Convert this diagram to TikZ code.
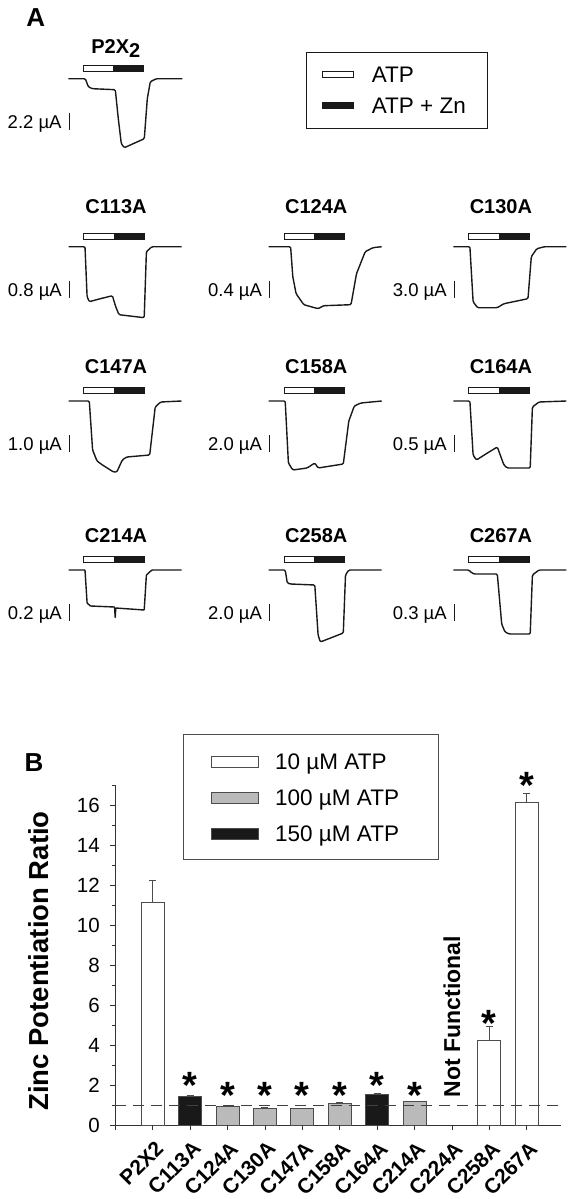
\documentclass[tikz,border=0pt]{standalone}
\usepackage{fontspec}
\setmainfont{Liberation Sans}
\begin{document}
\begin{tikzpicture}[
        x=1pt, y=-1pt,
        trace/.style={draw=black!90,line width=1.4pt,rounded corners=1.2pt,line join=round},
        stim/.style={draw=black!90,line width=0.7pt},
        scalebar/.style={draw=black!90,line width=1pt},
        title/.style={font=\fontsize{20}{20}\selectfont\bfseries,anchor=base,inner sep=0pt},
        amp/.style={font=\fontsize{18.5}{18.5}\selectfont,anchor=base east,inner sep=0pt},
        legtext/.style={font=\fontsize{22.5}{22.5}\selectfont,anchor=base west,inner sep=0pt},
        panel/.style={font=\fontsize{26}{26}\selectfont\bfseries,inner sep=0pt},
        axis/.style={draw=black!80,line width=0.8pt},
        ticklabel/.style={font=\fontsize{20.5}{20.5}\selectfont,anchor=east,inner sep=0pt},
        catlabel/.style={font=\fontsize{21}{21}\selectfont\bfseries,rotate=45,anchor=east,inner sep=0pt},
        sigstar/.style={font=\fontsize{38}{38}\selectfont\bfseries,anchor=base,inner sep=0pt},
        bar/.style={draw=black!70,line width=0.7pt},
        refline/.style={draw=black!75,line width=0.8pt,dash pattern=on 11pt off 7pt},
    ]
    \useasboundingbox (0,0) rectangle (574,1199);

    % Panel A: titles, drug bars and scale bars
    \node[panel] (A) at (35.8,17.5) {A};
    \foreach \px/\py/\ty/\id/\name/\amp in {
            68.3/78.7/53.9/P2X2/{P2X\raisebox{-4pt}{2}}/2.2,
            68.5/246.7/213.9/C113A/C113A/0.8,
            268.7/246.7/213.9/C124A/C124A/0.4,
            453.4/246.7/213.9/C130A/C130A/3.0,
            68.5/401/373.9/C147A/C147A/1.0,
            268.7/401/373.9/C158A/C158A/2.0,
            453.4/401/373.9/C164A/C164A/0.5,
            68.5/570/542.2/C214A/C214A/0.2,
            268.7/570/542.2/C258A/C258A/2.0,
            453.4/570/542.2/C267A/C267A/0.3}
        {
            \coordinate (o\id) at (\px,\py);
            \node[title] (t\id) at ({\px+47.5},\ty) {\name};
            \draw[stim,fill=white] ({\px+15.3},{\py-13.3}) rectangle ({\px+45.5},{\py-7.7});
            \draw[stim,fill=black!90] ({\px+45.5},{\py-13.3}) rectangle ({\px+75.5},{\py-7.7});
            \draw[scalebar] ({\px+1},{\py+34}) -- ({\px+1},{\py+51});
            \node[amp] (a\id) at ({\px-6.5},{\py+49.3}) {\amp~µA};
        }

    % Current traces, drawn from each origin
    \draw[trace,shift={(oP2X2)}] (0,0) -- (17,0) -- (20,8) -- (24,10) -- (47,11) -- (50,40) -- (53,65) -- (56,69) -- (76,60) -- (79,20) -- (82,3) -- (88,0) -- (114,0);
    \draw[trace,shift={(oC113A)}] (0,0) -- (16.5,0) -- (18.6,50) -- (20.8,55) -- (31.8,52) -- (43.9,49) -- (47.2,60) -- (50.5,68) -- (75.7,71) -- (77.9,5) -- (83.4,0) -- (113,0);
    \draw[trace,shift={(oC124A)}] (0,0) -- (21.9,0) -- (24.1,30) -- (27.4,47) -- (35.1,58) -- (49.4,62) -- (54.9,59) -- (82.3,58) -- (87.8,27) -- (96.5,5) -- (104.2,1) -- (113,0);
    \draw[trace,shift={(oC130A)}] (0,0) -- (16.5,0) -- (19.7,55) -- (24.1,61) -- (43.9,61) -- (50.5,57) -- (74.6,52) -- (77.9,10) -- (83.4,2) -- (91.1,0) -- (113,0);
    \draw[trace,shift={(oC147A)}] (0,0) -- (20.8,0) -- (24.1,49) -- (28.5,60) -- (34,64) -- (45,71) -- (48.3,71) -- (53.8,59) -- (58.1,56) -- (81.2,54) -- (86.7,6) -- (92.1,1) -- (113,0);
    \draw[trace,shift={(oC158A)}] (0,0) -- (16.5,0) -- (19.7,62) -- (24.1,69) -- (38.4,67) -- (46.1,62) -- (49.4,67) -- (74.6,63) -- (80.1,20) -- (85.6,5) -- (92.1,2) -- (113,0);
    \draw[trace,shift={(oC164A)}] (0,0) -- (16.5,0) -- (19.7,54) -- (23,59) -- (34,52) -- (43.9,46) -- (47.2,55) -- (50.5,64) -- (53.8,67) -- (76.8,67) -- (79,6) -- (85.6,1) -- (113,0);
    \draw[trace,shift={(oC214A)},rounded corners=0.6pt] (0,0) -- (16.5,0) -- (18.6,33) -- (21.9,36) -- (46.1,37) -- (46.7,48) -- (47.3,38) -- (75.7,40) -- (77.9,5) -- (83.4,0) -- (113,0);
    \draw[trace,shift={(oC258A)}] (0,0) -- (16.5,0) -- (18.6,13) -- (21.9,14) -- (46.1,15) -- (49.4,65) -- (51.6,72) -- (74.6,63) -- (76.8,5) -- (80.1,0) -- (113,0);
    \draw[trace,shift={(oC267A)}] (0,0) -- (15.4,0) -- (18.6,3) -- (20.8,4) -- (43.9,4) -- (48.3,54) -- (51.6,62) -- (55.9,64) -- (76.8,64) -- (79,5) -- (85.6,0) -- (113,0);

    % Legend of panel A
    \draw[stim,line width=0.8pt] (306,52.3) rectangle (487.3,128.3);
    \draw[stim,fill=white] (322.7,71) rectangle (353.3,77.3);
    \draw[stim,fill=black!90] (322.7,102) rectangle (353.3,108.3);
    \node[legtext] (lATP) at (371.7,82.4) {ATP};
    \node[legtext] (lZn) at (371.7,113.1) {ATP + Zn};

    % Panel B: axes and ticks
    \node[panel] (B) at (34,763) {B};
    \draw[axis] (115,785) -- (115,1125) -- (560.5,1125);
    \foreach \v in {0,2,...,16} {
        \draw[axis] (115,{1125-20*\v}) -- ++(-5,0);
        \node[ticklabel] (y\v) at (100,{1125-20*\v}) {\v};
    }
    \foreach \v in {1,3,...,17}
        \draw[axis] (115,{1125-20*\v}) -- ++(-3,0);
    \draw[axis] (115,1125) -- ++(0,5);
    \node[font=\fontsize{27.5}{27.5}\selectfont\bfseries,rotate=90,inner sep=0pt] (ylab) at (39,961) {Zinc Potentiation Ratio};

    % Bars with error bars
    \foreach \i/\val/\err/\col in {
            0/11.15/12.25/white, 1/1.45/1.5/black!90, 2/0.92/0.95/black!27,
            3/0.84/0.87/black!27, 4/0.82/0.85/black!27, 5/1.08/1.11/black!27,
            6/1.53/1.56/black!90, 7/1.16/1.19/black!27, 9/4.22/4.92/white,
            10/16.15/16.6/white}
        {
            \draw[bar,fill=\col] ({152.7+37.4*\i-11.5},1125) rectangle ({152.7+37.4*\i+11.5},{1125-20*\val});
            \draw[bar] ({152.7+37.4*\i},{1125-20*\val}) -- ({152.7+37.4*\i},{1125-20*\err}) ++(-3.5,0) -- ++(7,0);
        }
    \draw[refline] (115,1105) -- (562,1105);

    % Category ticks and labels
    \foreach \name [count=\i from 0] in {P2X2,C113A,C124A,C130A,C147A,C158A,C164A,C214A,C224A,C258A,C267A}
        {
            \draw[axis] ({152.7+37.4*\i},1125) -- ++(0,5);
            \node[catlabel] (c\name) at ({152.7+37.4*\i+7},1145) {\name};
        }
    \node[font=\fontsize{23}{23}\selectfont\bfseries,rotate=90,inner sep=0pt] (nf) at (452,1016.7) {Not Functional};

    % Significance marks
    \foreach \i/\sy in {1/1076.7, 2/1086.7, 3/1086.7, 4/1086.7, 5/1086.7,
            6/1076.7, 7/1086.7, 9/1015, 10/776.7}
        \node[sigstar] (s\i) at ({152.7+37.4*\i},{\sy+21.3}) {*};

    % Legend of panel B
    \draw[bar,line width=0.8pt] (183.3,734) rectangle (438.3,859.3);
    \foreach \sy/\col/\txt in {761.7/white/10, 798.2/black!27/100, 833.7/black!90/150}
        {
            \draw[bar,fill=\col] (211,{\sy-5.5}) rectangle (258.3,{\sy+5.5});
            \node[legtext] (k\txt) at (275,{\sy+7.3}) {\txt~µM ATP};
        }
\end{tikzpicture}
\end{document}
